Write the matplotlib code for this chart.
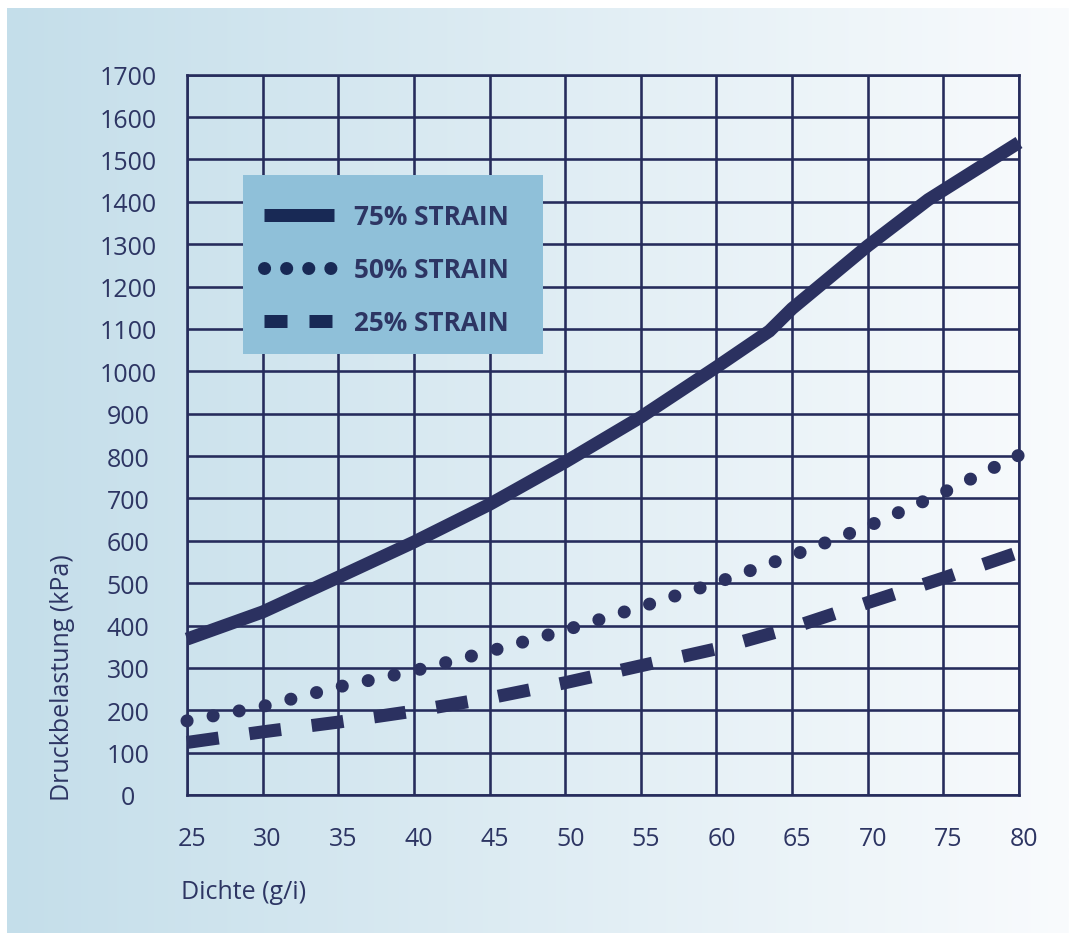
import numpy as np
import matplotlib
matplotlib.use("Agg")
import matplotlib.pyplot as plt
from matplotlib.lines import Line2D
from matplotlib.patches import Rectangle
from matplotlib.transforms import ScaledTranslation

# ---- data ----
density = [25, 30, 35, 40, 45, 50, 55, 60, 65, 70, 75, 80]
density_75 = [25, 30, 35, 40, 45, 50, 55, 60, 63.5, 65, 70, 74, 80]
strain_75 = [368, 432, 514, 597, 686, 786, 892, 1010, 1095, 1148, 1296, 1405, 1540]
strain_50 = [175, 209, 255, 293, 339, 389, 444, 501, 565, 634, 714, 802]
strain_25 = [124, 149, 172, 198, 229, 265, 305, 345, 395, 454, 512, 573]
x_ticks = [25, 30, 35, 40, 45, 50, 55, 60, 65, 70, 75, 80]
y_ticks = list(range(0, 1800, 100))
labels = ["75% STRAIN", "50% STRAIN", "25% STRAIN"]
x_title = "Dichte (g/i)"
y_title = "Druckbelastung (kPa)"

plt.rcParams['font.family'] = ['Open Sans', 'DejaVu Sans']

W, H = 1069, 937
DPI = 100
fig = plt.figure(figsize=(W / DPI, H / DPI), dpi=DPI, facecolor='white')

def px2pt(p):
    return p * 72.0 / DPI

# gradient background panel
bx0, bx1, by0, by1 = 7, 1069, 9, 934
bg = fig.add_axes([bx0 / W, 1 - by1 / H, (bx1 - bx0) / W, (by1 - by0) / H], zorder=-5)
c0 = np.array([196, 222, 234]) / 255.0
c1 = np.array([249, 251, 253]) / 255.0
t = np.linspace(0, 1, 512)[None, :, None]
grad = c0[None, None, :] * (1 - t) + c1[None, None, :] * t
bg.imshow(grad, aspect='auto', extent=[0, 1, 0, 1])
bg.set_axis_off()

# main axes
ax_l, ax_r, ax_t, ax_b = 187, 1019, 75.7, 796
ax = fig.add_axes([ax_l / W, 1 - ax_b / H, (ax_r - ax_l) / W, (ax_b - ax_t) / H])
ax.set_facecolor('none')

def ax_x(px):
    return (px - ax_l) / (ax_r - ax_l)

def ax_y(py):
    return (ax_b - py) / (ax_b - ax_t)

navy = '#2b3160'
grid_col = '#262c5c'
text_col = '#2d3563'
lw = px2pt(13)

ax.plot(density_75, strain_75, color=navy, lw=lw, solid_capstyle='butt',
        solid_joinstyle='miter', zorder=3, clip_on=False)
ax.plot(density, strain_50, color=navy, lw=lw, dashes=(0.01, 2.03),
        dash_capstyle='round', zorder=3, clip_on=False)
ax.plot(density, strain_25, color=navy, lw=lw, dashes=(2.46, 2.38),
        dash_capstyle='butt', zorder=3, clip_on=False)

ax.set_xlim(25, 80)
ax.set_ylim(0, 1700)
ax.set_xticks(x_ticks)
ax.set_yticks(y_ticks)
ax.grid(True, color=grid_col, lw=px2pt(2.6), zorder=1)
ax.set_axisbelow(True)
for s in ax.spines.values():
    s.set_color(grid_col)
    s.set_linewidth(px2pt(2.6))

fs = 18
ax.tick_params(axis='both', length=0, labelsize=fs, labelcolor=text_col)
ax.tick_params(axis='x', pad=22)
ax.tick_params(axis='y', pad=px2pt(59))
for lbl in ax.get_yticklabels():
    lbl.set_ha('center')
off = ScaledTranslation(5 / DPI, 0, fig.dpi_scale_trans)
for lbl in ax.get_xticklabels():
    lbl.set_transform(lbl.get_transform() + off)

ax.set_xlabel(x_title, fontsize=fs, color=text_col, ha='left', va='center')
ax.xaxis.set_label_coords(ax_x(181), ax_y(893))
ax.set_ylabel(y_title, fontsize=fs, color=text_col)
ylab = ax.yaxis.label
ylab.set_rotation_mode('default')
ylab.set_ha('center')
ylab.set_va('bottom')
ax.yaxis.set_label_coords(ax_x(62), ax_y(801))

# legend box
ax.add_patch(Rectangle((ax_x(243), ax_y(355)), ax_x(543) - ax_x(243), ax_y(176) - ax_y(355),
                       transform=ax.transAxes, facecolor='#8fc0d9', edgecolor='none',
                       zorder=4, clip_on=False))

# legend
hcol = '#182955'
handles = [
    Line2D([], [], color=hcol, lw=lw, solid_capstyle='butt'),
    Line2D([], [], color=hcol, lw=lw, dashes=(0.01, 1.69), dash_capstyle='round'),
    Line2D([], [], color=hcol, lw=lw, dashes=(1.77, 1.69), dash_capstyle='butt'),
]
leg = ax.legend(handles, labels, loc='upper left',
                bbox_to_anchor=(ax_x(264), ax_y(204)),
                borderaxespad=0, borderpad=0,
                handlelength=2.68, handleheight=0.7, handletextpad=0.75,
                labelspacing=1.0, frameon=False,
                prop={'size': 18.8, 'weight': 'bold'})
for txt in leg.get_texts():
    txt.set_color(text_col)
leg.set_zorder(5)

fig.savefig('out.png', dpi=DPI, facecolor='white')
